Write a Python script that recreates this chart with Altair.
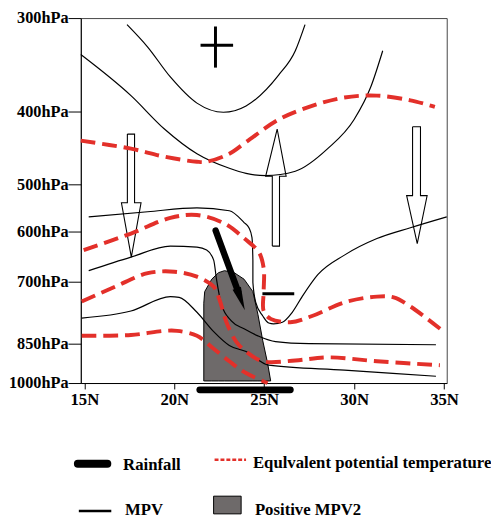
import altair as alt
import pandas as pd

# ---------------- axes ----------------
LEVELS = [300, 400, 500, 600, 700, 850, 1000]          # hPa tick levels
LEVEL_POS = [0, 95, 169, 217, 268, 331, 371]           # schematic (non-linear) vertical placement of levels
LAT_TICKS = [15, 20, 25, 30, 35]

# ---------------- MPV contours (lat, hPa) ----------------
MPV1_LAT = [17.37, 18.52, 19.78, 21.26, 22.73, 23.99, 25.8, 26.73, 27.27]
MPV1_P = [307, 331, 363, 391, 401, 394, 361, 335, 307]

MPV2_LAT = [14.8, 17.59, 19.45, 21.26, 23.06, 23.99, 25.08, 26.73, 28.53, 30.0, 30.94, 31.59]
MPV2_P = [339, 383, 424, 458, 478, 485, 488, 482, 451, 411, 373, 335]

MPV3_LAT = [15.24, 18.52, 21.26, 23.06, 23.88, 24.15, 24.32, 24.37, 24.37, 24.53, 24.92,
            25.25, 25.52, 26.01, 26.56, 27.11, 27.98, 29.46, 31.27, 33.13, 35.15]
MPV3_P = [569, 558, 550, 556, 581, 592, 612, 657, 702, 750, 783,
          800, 802, 798, 774, 736, 686, 647, 614, 592, 569]

MPV4_LAT = [15.24, 17.59, 19.78, 21.26, 21.8, 22.19, 22.35, 22.62, 23.17, 23.88, 24.65, 25.63, 27.5, 34.55]
MPV4_P = [678, 651, 629, 631, 637, 657, 696, 755, 795, 814, 831, 845, 850, 854]

MPV5_LAT = [14.85, 17.59, 19.78, 20.27, 21.26, 22.19, 23.06, 23.99, 25.25, 29.46, 34.55]
MPV5_P = [788, 771, 736, 738, 774, 821, 857, 880, 932, 951, 974]

# ---------------- equivalent potential temperature (lat, hPa) ----------------
THE1_LAT = [14.8, 17.59, 19.45, 21.26, 21.8, 23.06, 23.99, 25.8, 27.66, 29.46, 31.27, 33.13, 34.49]
THE1_P = [440, 451, 462, 469, 469, 458, 442, 411, 394, 385, 383, 388, 395]

THE2_LAT = [14.96, 17.59, 19.78, 21.26, 22.79, 23.9, 24.7, 24.97, 24.97, 24.97, 25.36, 26.45,
            27.66, 29.46, 31.27, 32.2, 33.13, 34.93]
THE2_P = [637, 604, 571, 565, 583, 614, 641, 673, 724, 771, 790, 798,
          783, 750, 736, 738, 760, 819]

THE3_LAT = [14.85, 16.71, 18.52, 20.0, 21.26, 22.19, 22.51, 22.9, 23.44, 23.99, 24.92, 26.73, 28.53, 31.27, 34.77]
THE3_P = [748, 712, 683, 680, 690, 712, 743, 798, 845, 880, 917, 914, 902, 917, 932]

THE4_LAT = [14.85, 17.59, 19.45, 20.16, 21.26, 22.19, 23.06, 23.99, 25.19]
THE4_P = [831, 829, 819, 819, 831, 869, 917, 962, 1000]

# ---------------- positive MPV2 region ----------------
MPV2POS_LAT = [21.64, 21.69, 22.08, 22.46, 22.79, 23.33, 23.88, 24.37, 24.65, 24.92, 25.19, 25.36]
MPV2POS_TOP = [752, 724, 695, 682, 678, 682, 695, 724, 779, 843, 925, 992]
MPV2POS_BOTTOM = 992

# ---------------- vertical motion arrows (outline polygons) ----------------
ARROW_L_LAT = [17.39, 17.79, 17.79, 18.15, 17.61, 17.06, 17.39, 17.39]
ARROW_L_P = [431, 431, 539, 539, 651, 539, 539, 431]
ARROW_M_LAT = [25.45, 25.45, 25.08, 25.72, 26.22, 25.85, 25.85, 25.45]
ARROW_M_P = [629, 489, 489, 424, 489, 489, 629, 629]
ARROW_R_LAT = [33.25, 33.69, 33.69, 34.06, 33.51, 32.92, 33.25, 33.25]
ARROW_R_P = [421, 421, 524, 524, 624, 524, 524, 421]

# ---------------- signs, slantwise arrow, rainfall ----------------
SIGN_LAT = [21.46, 22.29, 24.90]
SIGN_LAT2 = [23.27, 22.29, 26.67]
SIGN_P = [329, 309, 729]
SIGN_P2 = [329, 353, 729]

SLANT_LAT, SLANT_LAT2 = [22.3], [23.55]
SLANT_P, SLANT_P2 = [598], [724]
SLANT_HEAD_LAT, SLANT_HEAD_P = [23.66], [738]

RAIN_LAT, RAIN_LAT2, RAIN_P = [21.42], [26.45], [1026]

LEGEND = ["Rainfall", "Equlvalent potential temperature", "MPV", "Positive MPV2"]

RED = "#e3302a"
GREY = "#6e6a6a"
FONT = "Liberation Serif"


def series(name, lats, ps):
    return pd.DataFrame({"lat": lats, "p": ps, "id": name, "k": list(range(len(lats)))})


mpv_df = pd.concat([series("m1", MPV1_LAT, MPV1_P), series("m2", MPV2_LAT, MPV2_P),
                    series("m3", MPV3_LAT, MPV3_P), series("m4", MPV4_LAT, MPV4_P),
                    series("m5", MPV5_LAT, MPV5_P)])
the_df = pd.concat([series("t1", THE1_LAT, THE1_P), series("t2", THE2_LAT, THE2_P),
                    series("t3", THE3_LAT, THE3_P), series("t4", THE4_LAT, THE4_P)])
arrow_df = pd.concat([series("aL", ARROW_L_LAT, ARROW_L_P), series("aM", ARROW_M_LAT, ARROW_M_P),
                      series("aR", ARROW_R_LAT, ARROW_R_P)])
area_df = pd.DataFrame({"lat": MPV2POS_LAT, "p": MPV2POS_TOP, "pb": [MPV2POS_BOTTOM] * len(MPV2POS_LAT)})
sign_df = pd.DataFrame({"lat": SIGN_LAT, "lat2": SIGN_LAT2, "p": SIGN_P, "p2": SIGN_P2})
slant_df = pd.DataFrame({"lat": SLANT_LAT, "lat2": SLANT_LAT2, "p": SLANT_P, "p2": SLANT_P2})
head_df = pd.DataFrame({"lat": SLANT_HEAD_LAT, "p": SLANT_HEAD_P})
rain_df = pd.DataFrame({"lat": RAIN_LAT, "lat2": RAIN_LAT2, "p": RAIN_P})

X = alt.X("lat:Q",
          scale=alt.Scale(domain=[14.8, 35.15], nice=False, zero=False),
          axis=alt.Axis(values=LAT_TICKS, labelExpr="datum.value + 'N'", title=None, grid=False,
                        tickSize=6, labelPadding=3, domainColor="black", tickColor="black",
                        labelFont=FONT, labelFontSize=17, labelFontWeight="bold", labelColor="black",
                        labelFlush=False, labelOverlap=False))
Y = alt.Y("p:Q",
          scale=alt.Scale(domain=LEVELS, range=LEVEL_POS, nice=False, zero=False),
          axis=alt.Axis(values=LEVELS, labelExpr="datum.value + 'hPa'", title=None, grid=False,
                        tickSize=13, labelPadding=0, domainColor="black", tickColor="black",
                        labelFont=FONT, labelFontSize=16.5, labelFontWeight="bold", labelColor="black",
                        labelFlush=False, labelOverlap=False))

area = alt.Chart(area_df).mark_area(color=GREY, stroke="black", strokeWidth=1, opacity=1).encode(
    x=X, y=Y, y2=alt.Y2("pb:Q"))

arrows = alt.Chart(arrow_df).mark_line(color="black", strokeWidth=1.1).encode(
    x=X, y=Y, detail="id:N", order="k:Q")

mpv = alt.Chart(mpv_df).mark_line(color="black", strokeWidth=1.2, interpolate="monotone").encode(
    x=X, y=Y, detail="id:N", order="k:Q")

the = alt.Chart(the_df).mark_line(color=RED, strokeWidth=4, strokeDash=[15, 7],
                                   interpolate="catmull-rom").encode(
    x=X, y=Y, detail="id:N", order="k:Q")

signs = alt.Chart(sign_df).mark_rule(color="black", strokeWidth=3).encode(
    x=X, x2=alt.X2("lat2:Q"), y=Y, y2=alt.Y2("p2:Q"))

slant = alt.Chart(slant_df).mark_rule(color="black", strokeWidth=6.5, strokeCap="round").encode(
    x=X, x2=alt.X2("lat2:Q"), y=Y, y2=alt.Y2("p2:Q"))

head = alt.Chart(head_df).mark_point(shape="M0,-1.4L0.45,1L-0.45,1Z", size=400, filled=True,
                                     color="black", opacity=1, angle=160).encode(x=X, y=Y)

rain = alt.Chart(rain_df).mark_rule(color="black", strokeWidth=7, strokeCap="round").encode(
    x=X, x2=alt.X2("lat2:Q"), y=Y)

# ---------------- hand-made legend below the plot ----------------
one = pd.DataFrame({"t": [0]})
leg_rain = alt.Chart(one).mark_rule(color="black", strokeWidth=8, strokeCap="round").encode(
    x=alt.value(-3), x2=alt.value(27), y=alt.value(453))
leg_the = alt.Chart(one).mark_rule(color=RED, strokeWidth=2.5, strokeDash=[4, 2]).encode(
    x=alt.value(136), x2=alt.value(168), y=alt.value(449))
leg_mpv = alt.Chart(one).mark_rule(color="black", strokeWidth=2.5).encode(
    x=alt.value(-2), x2=alt.value(31), y=alt.value(501))
leg_box = alt.Chart(one).mark_rect(color=GREY, stroke="black", strokeWidth=1, opacity=1).encode(
    x=alt.value(135), x2=alt.value(163), y=alt.value(486), y2=alt.value(504))


def leg_text(label, px, py):
    return alt.Chart(pd.DataFrame({"t": [label]})).mark_text(
        font=FONT, fontSize=17, fontWeight="bold", color="black", align="left", baseline="alphabetic"
    ).encode(text="t:N", x=alt.value(px), y=alt.value(py))


texts = [leg_text(LEGEND[0], 43, 459), leg_text(LEGEND[1], 175, 457),
         leg_text(LEGEND[2], 45, 505), leg_text(LEGEND[3], 177, 505)]

chart = alt.layer(area, arrows, mpv, the, slant, head, signs, rain,
                  leg_rain, leg_the, leg_mpv, leg_box, *texts).properties(
    width=372, height=371,
    padding={"left": 74, "top": 6, "right": 45, "bottom": 136},
    autosize=alt.AutoSizeParams(type="none"),
).configure_view(stroke="#444", strokeWidth=1)

chart.save("out.html", embed_options={"renderer": "svg", "actions": False})
